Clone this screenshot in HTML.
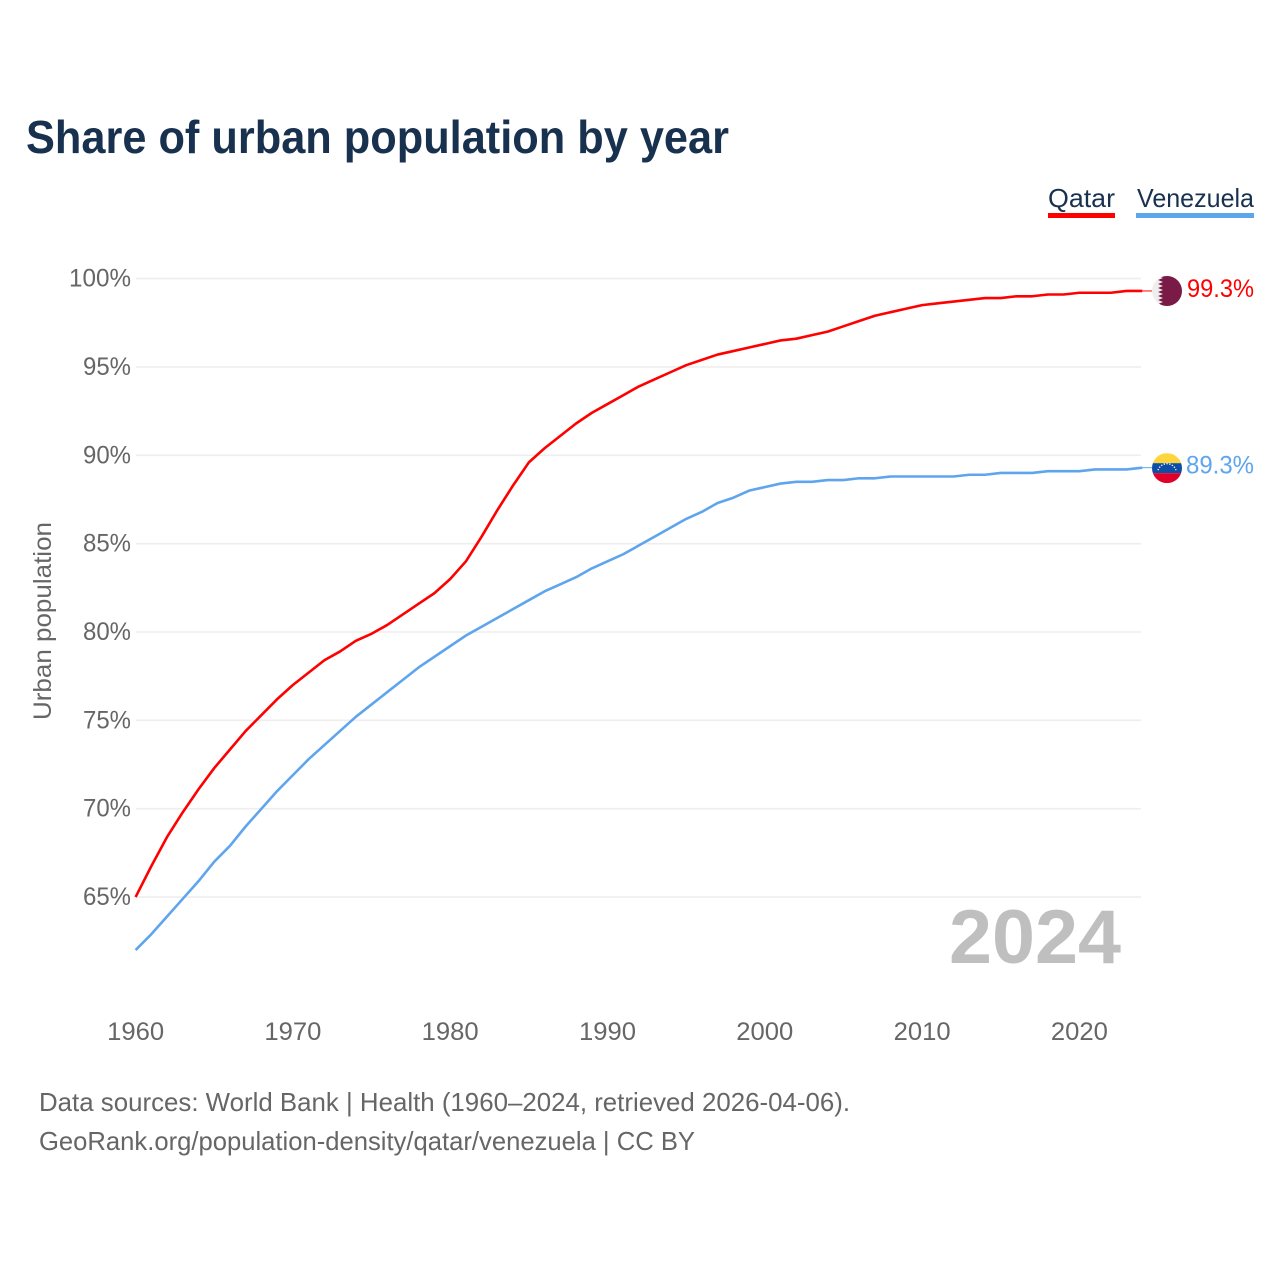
<!DOCTYPE html>
<html lang="en">
<head>
<meta charset="utf-8">
<title>Share of urban population by year</title>
<style>
html,body{margin:0;padding:0;background:#fff;width:1280px;height:1280px;overflow:hidden}
svg{display:block;font-family:"Liberation Sans",sans-serif}
</style>
</head>
<body>
<svg id="chart" width="1280" height="1280" viewBox="0 0 1280 1280" xmlns="http://www.w3.org/2000/svg">
  <defs>
    <clipPath id="flag-clip"><circle cx="0" cy="0" r="15"/></clipPath>
  </defs>
  <text x="26" y="153" font-size="46" font-weight="700" fill="#18314f" textLength="703" lengthAdjust="spacingAndGlyphs">Share of urban population by year</text>

  <g>
    <g>
      <text x="1048" y="207" font-size="26" fill="#18314f" textLength="67" lengthAdjust="spacingAndGlyphs">Qatar</text>
      <rect x="1048" y="213" width="67" height="5" fill="#ff0000"/>
    </g>
    <g>
      <text x="1137" y="207" font-size="26" fill="#18314f" textLength="117" lengthAdjust="spacingAndGlyphs">Venezuela</text>
      <rect x="1136" y="213" width="118" height="5" fill="#5fa5ee"/>
    </g>
  </g>

  <g id="grid"></g>
  <g id="yticks"></g>
  <g id="xticks"></g>
  <text transform="translate(51,621) rotate(-90)" text-anchor="middle" font-size="25" fill="#666666" textLength="198" lengthAdjust="spacingAndGlyphs">Urban population</text>

  <text x="949" y="963" font-size="76" font-weight="700" fill="#bfbfbf" textLength="172" lengthAdjust="spacingAndGlyphs">2024</text>

  <g id="series"></g>

  <g id="flag-qatar">
    <g clip-path="url(#flag-clip)">
      <rect x="-15" y="-15" width="30" height="30" fill="#eeeeee"/>
      <polygon fill="#7a1a47" points="15,-15 -9,-15 -4,-13 -9,-11 -4,-9 -9,-7 -4,-5 -9,-3 -4,-1 -9,1 -4,3 -9,5 -4,7 -9,9 -4,11 -9,13 -4,15 15,15"/>
    </g>
  </g>
  <g id="flag-venezuela">
    <g clip-path="url(#flag-clip)">
      <rect x="-15" y="-15" width="30" height="10" fill="#ffd53d"/>
      <rect x="-15" y="-5" width="30" height="10" fill="#0f4ea6"/>
      <rect x="-15" y="5" width="30" height="10" fill="#e2002b"/>
      <path d="M-9 2 A9.5 9.5 0 0 1 9 2" fill="none" stroke="#ffffff" stroke-width="1.3" stroke-dasharray="1.3 1.5"/>
    </g>
  </g>
  <text id="value-qatar" x="1187" font-size="25" fill="#ff0000" textLength="67" lengthAdjust="spacingAndGlyphs"></text>
  <text id="value-venezuela" x="1186" font-size="25" fill="#5fa5ee" textLength="68" lengthAdjust="spacingAndGlyphs"></text>

  <g>
    <text x="39" y="1111" font-size="26" fill="#666666" textLength="811" lengthAdjust="spacingAndGlyphs">Data sources: World Bank | Health (1960–2024, retrieved 2026-04-06).</text>
    <text x="39" y="1150" font-size="26" fill="#666666" textLength="656" lengthAdjust="spacingAndGlyphs">GeoRank.org/population-density/qatar/venezuela | CC BY</text>
  </g>
</svg>
<script>
const startYear = 1960;
const yTicks = [65, 70, 75, 80, 85, 90, 95, 100];
const xTicks = [1960, 1970, 1980, 1990, 2000, 2010, 2020];
const qatar = [65.0,66.75,68.4,69.8,71.1,72.3,73.35,74.4,75.3,76.2,77.0,77.7,78.4,78.9,79.5,79.9,80.4,81.0,81.6,82.2,83.0,84.0,85.4,86.9,88.3,89.6,90.4,91.1,91.8,92.4,92.9,93.4,93.9,94.3,94.7,95.1,95.4,95.7,95.9,96.1,96.3,96.5,96.6,96.8,97.0,97.3,97.6,97.9,98.1,98.3,98.5,98.6,98.7,98.8,98.9,98.9,99.0,99.0,99.1,99.1,99.2,99.2,99.2,99.3,99.3];
const venezuela = [62.0,62.9,63.9,64.9,65.9,67.0,67.9,69.0,70.0,71.0,71.9,72.8,73.6,74.4,75.2,75.9,76.6,77.3,78.0,78.6,79.2,79.8,80.3,80.8,81.3,81.8,82.3,82.7,83.1,83.6,84.0,84.4,84.9,85.4,85.9,86.4,86.8,87.3,87.6,88.0,88.2,88.4,88.5,88.5,88.6,88.6,88.7,88.7,88.8,88.8,88.8,88.8,88.8,88.9,88.9,89.0,89.0,89.0,89.1,89.1,89.1,89.2,89.2,89.2,89.3];

const NS = 'http://www.w3.org/2000/svg';
function xScale(year) { return 135.6 + (year - 1960) * 15.73; }
function yScale(v) { return 278.6 + (100 - v) * 17.67; }
function make(tag, attrs, parent) {
  const el = document.createElementNS(NS, tag);
  for (const k in attrs) el.setAttribute(k, attrs[k]);
  parent.appendChild(el);
  return el;
}

const grid = document.getElementById('grid');
const yt = document.getElementById('yticks');
yTicks.forEach(function (t) {
  const line = make('line', {x1: 136, x2: 1141, y1: yScale(t), y2: yScale(t), stroke: '#eeeeee', 'stroke-width': 1.6}, grid);
  
  
  const label = make('text', {x: 131, y: yScale(t) + 8, 'text-anchor': 'end', 'font-size': 25, fill: '#666666'}, yt);
  
  
  label.setAttribute('textLength', 62);
  label.setAttribute('lengthAdjust', 'spacingAndGlyphs');
  if (t < 100) label.setAttribute('textLength', 48);
  label.textContent = t + '%';
});

const xt = document.getElementById('xticks');
xTicks.forEach(function (t) {
  const label = make('text', {x: xScale(t), y: 1040, 'text-anchor': 'middle', 'font-size': 25, fill: '#666666'}, xt);
  
  
  label.setAttribute('textLength', 57);
  label.setAttribute('lengthAdjust', 'spacingAndGlyphs');
  label.textContent = t;
});

function linePath(values) {
  return values.map(function (v, i) {
    return (i ? 'L' : 'M') + xScale(startYear + i).toFixed(2) + ' ' + yScale(v).toFixed(2);
  }).join(' ');
}
const seriesGroup = document.getElementById('series');

const qatarLine = make('path', {d: linePath(qatar), fill: 'none', stroke: '#ff0000', 'stroke-width': 2.6, 'stroke-linejoin': 'round'}, seriesGroup);


const venLine = make('path', {d: linePath(venezuela), fill: 'none', stroke: '#5fa5ee', 'stroke-width': 2.6, 'stroke-linejoin': 'round'}, seriesGroup);



const qLast = qatar[qatar.length - 1];
const vLast = venezuela[venezuela.length - 1];
const endX = xScale(startYear + qatar.length - 1);
const qY = yScale(qLast);
const vY = yScale(vLast);

const qLead = make('line', {x1: endX, x2: 1152, y1: qY, y2: qY, stroke: '#ff0000', 'stroke-width': 1}, seriesGroup);


const vLead = make('line', {x1: endX, x2: 1152, y1: vY, y2: vY, stroke: '#5fa5ee', 'stroke-width': 1}, seriesGroup);



document.getElementById('flag-qatar').setAttribute('transform', 'translate(1167,' + qY + ')');
document.getElementById('flag-venezuela').setAttribute('transform', 'translate(1167,' + (vY + 0.5) + ')');
const qVal = document.getElementById('value-qatar');
qVal.setAttribute('y', qY + 6);
qVal.textContent = qLast.toFixed(1) + '%';
const vVal = document.getElementById('value-venezuela');
vVal.setAttribute('y', vY + 6);
vVal.textContent = vLast.toFixed(1) + '%';
</script>
</body>
</html>
